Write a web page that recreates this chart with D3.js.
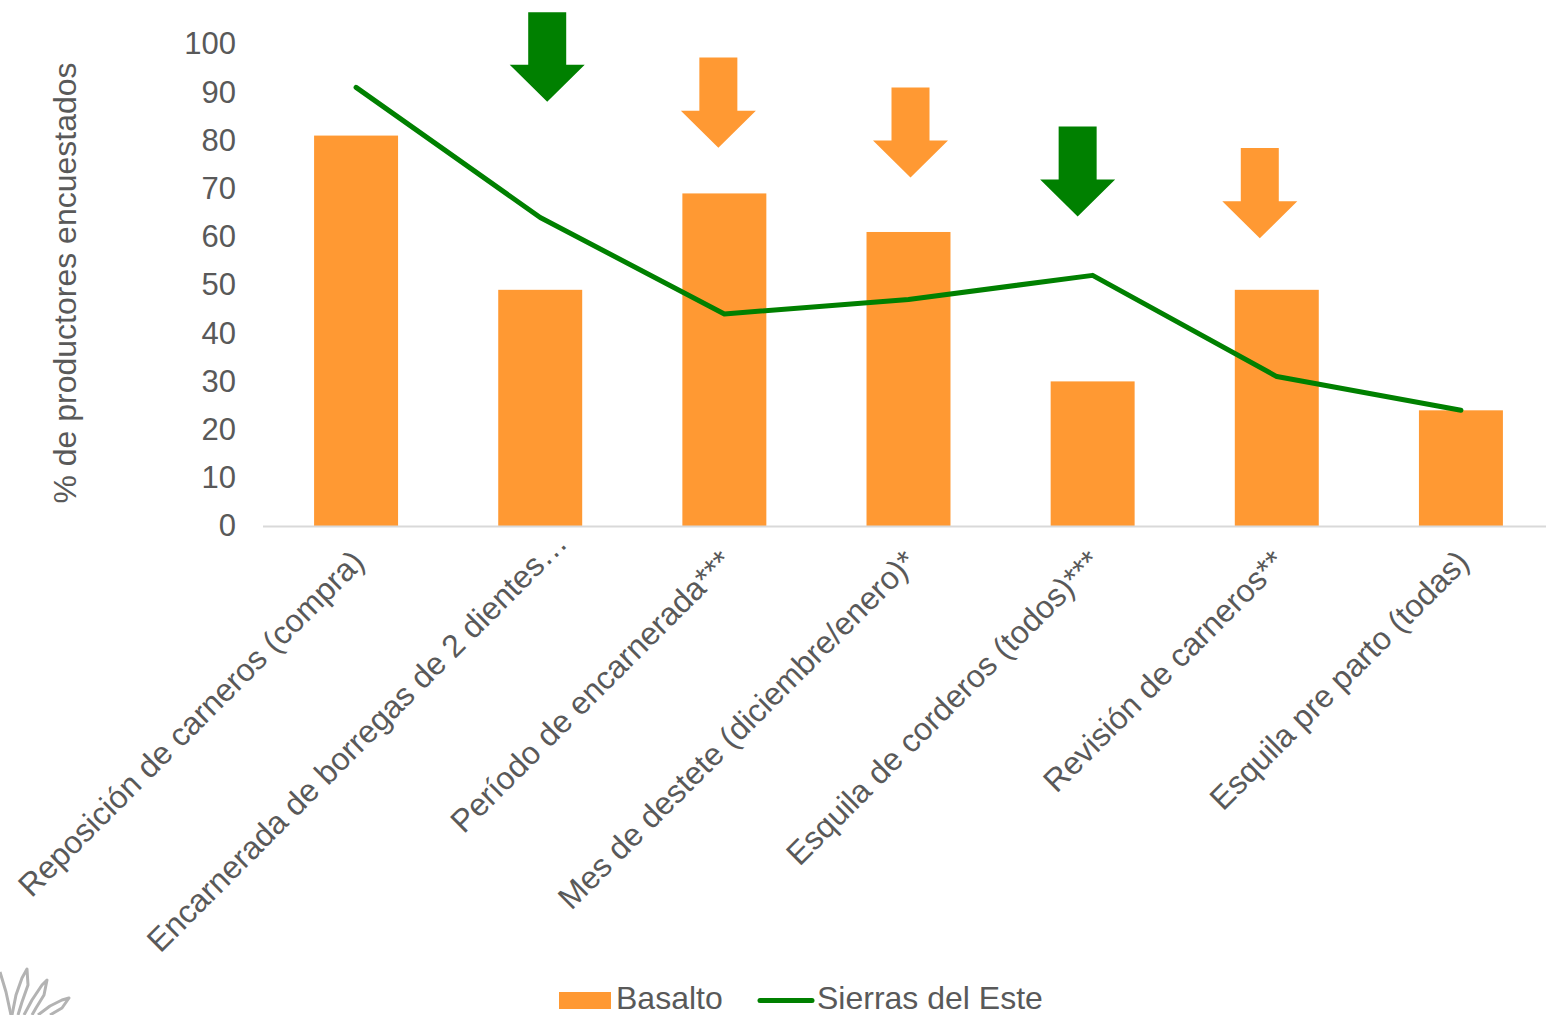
<!DOCTYPE html>
<html>
<head>
<meta charset="utf-8">
<script src="https://cdn.jsdelivr.net/npm/d3@7"></script>
<style>
  html, body { margin: 0; padding: 0; background: #fff; }
  svg { display: block; font-family: Arial, "Liberation Sans", sans-serif; }
</style>
</head>
<body>
<svg id="chart" width="1546" height="1015"></svg>
<script>
// ---- data ----
const categories = [
  "Reposición de carneros (compra)",
  "Encarnerada de borregas de 2 dientes…",
  "Período de encarnerada***",
  "Mes de destete (diciembre/enero)*",
  "Esquila de corderos (todos)***",
  "Revisión de carneros**",
  "Esquila pre parto (todas)"
];
const basalto = [81, 49, 69, 61, 30, 49, 24];
const sierrasDelEste = [91, 64, 44, 47, 52, 31, 24];
const yTicks = [0, 10, 20, 30, 40, 50, 60, 70, 80, 90, 100];
const seriesNames = ["Basalto", "Sierras del Este"];
const yTitle = "% de productores encuestados";

// annotation arrows (category, value at arrow tip / top, series colour)
const arrowCategories = [categories[1], categories[2], categories[3], categories[4], categories[5]];
const arrowTipValues = [88, 78.5, 72.3, 64.2, 59.7];
const arrowTopValues = [106.6, 97.2, 91, 82.9, 78.4];
const arrowSeries = ["Sierras del Este", "Basalto", "Basalto", "Sierras del Este", "Basalto"];

// ---- style ----
const colors = { "Basalto": "#FF9933", "Sierras del Este": "#008000" };
const textColor = "#595959";
const tickFont = 31;
const labelFont = 32;
const arrowDx = [7, -6, 2, -15, -17];
const labelShift = [0, 19, 0, 0, 0, 0, 0];

const svg = d3.select("#chart");
const margin = { left: 264, right: 1553, top: 44, bottom: 526 };

const x = d3.scaleBand()
  .domain(categories)
  .range([margin.left, margin.right])
  .paddingInner(0.544)
  .paddingOuter(0.272);

const y = d3.scaleLinear()
  .domain([0, 100])
  .range([margin.bottom, margin.top]);

// bars
svg.append("g").selectAll("rect")
  .data(categories)
  .join("rect")
  .attr("x", d => x(d))
  .attr("width", x.bandwidth())
  .attr("y", (d, i) => y(basalto[i]))
  .attr("height", (d, i) => y(0) - y(basalto[i]))
  .attr("fill", colors["Basalto"]);

// x axis line
svg.append("line")
  .attr("x1", 263).attr("x2", 1546)
  .attr("y1", y(0) + 0.5).attr("y2", y(0) + 0.5)
  .attr("stroke", "#D9D9D9").attr("stroke-width", 2);

// y axis (labels only)
const yAxis = d3.axisLeft(y).tickValues(yTicks).tickSize(0).tickPadding(0);
const gy = svg.append("g").attr("transform", "translate(236,0)").call(yAxis);
gy.select(".domain").remove();
gy.selectAll("text")
  .attr("fill", textColor)
  .style("font-size", tickFont + "px")
  .style("font-family", "Arial, 'Liberation Sans', sans-serif");

// x axis labels
const xAxis = d3.axisBottom(x).tickSize(0).tickPadding(0);
const gx = svg.append("g").attr("transform", `translate(0,${y(0)})`).call(xAxis);
gx.select(".domain").remove();
gx.selectAll(".tick text")
  .attr("fill", textColor)
  .style("font-size", labelFont + "px")
  .style("font-family", "Arial, 'Liberation Sans', sans-serif")
  .attr("text-anchor", "end")
  .attr("dy", "0.35em")
  .attr("y", 0)
  .attr("transform", (d, i) => `translate(${2 + labelShift[i]},${30 - labelShift[i]}) rotate(-45)`);

// line
const line = d3.line()
  .x((d, i) => x(categories[i]) + x.bandwidth() / 2)
  .y(d => y(d));
svg.append("path")
  .datum(sierrasDelEste)
  .attr("d", line)
  .attr("fill", "none")
  .attr("stroke", colors["Sierras del Este"])
  .attr("stroke-width", 5)
  .attr("stroke-linejoin", "round")
  .attr("stroke-linecap", "round");

// arrows
const shaftW = 38, headW = 75, headH = 37;
svg.append("g").selectAll("path")
  .data(arrowCategories)
  .join("path")
  .attr("d", (c, i) => {
    const cx = x(c) + x.bandwidth() / 2 + arrowDx[i];
    const tip = y(arrowTipValues[i]);
    const top = y(arrowTopValues[i]);
    const base = tip - headH;
    return `M${cx - shaftW/2},${top} L${cx + shaftW/2},${top} L${cx + shaftW/2},${base} ` +
           `L${cx + headW/2},${base} L${cx},${tip} L${cx - headW/2},${base} L${cx - shaftW/2},${base} Z`;
  })
  .attr("fill", (c, i) => colors[arrowSeries[i]]);

// y title
svg.append("text")
  .attr("transform", "translate(76,283) rotate(-90)")
  .attr("text-anchor", "middle")
  .attr("fill", textColor)
  .style("font-size", labelFont + "px")
  .text(yTitle);

// legend
const lg = svg.append("g");
lg.append("rect").attr("x", 559).attr("y", 992).attr("width", 52).attr("height", 17)
  .attr("fill", colors["Basalto"]);
lg.append("text").attr("x", 616).attr("y", 1009).attr("fill", textColor)
  .style("font-size", labelFont + "px").text(seriesNames[0]);
lg.append("line").attr("x1", 760).attr("x2", 812).attr("y1", 1000.5).attr("y2", 1000.5)
  .attr("stroke", colors["Sierras del Este"]).attr("stroke-width", 5).attr("stroke-linecap", "round");
lg.append("text").attr("x", 817).attr("y", 1009).attr("fill", textColor)
  .style("font-size", labelFont + "px").text(seriesNames[1]);

// logo fragment (bottom-left)
const logo = svg.append("g").attr("fill", "none").attr("stroke", "#B3B3B3")
  .attr("stroke-width", 3).attr("stroke-linejoin", "round");
const logoPaths = [
  "M0,972 L6,992 L11,1015",
  "M12,1015 L16,995 L22,978 L27,969 L28,985 L22,1002 L18,1015",
  "M24,1015 L32,1000 L42,985 L47,980 L44,995 L36,1008 L32,1015",
  "M38,1015 L50,1006 L62,1000 L69,998 L62,1008 L50,1015"
];
logo.selectAll("path").data(logoPaths).join("path").attr("d", d => d);
</script>
</body>
</html>
